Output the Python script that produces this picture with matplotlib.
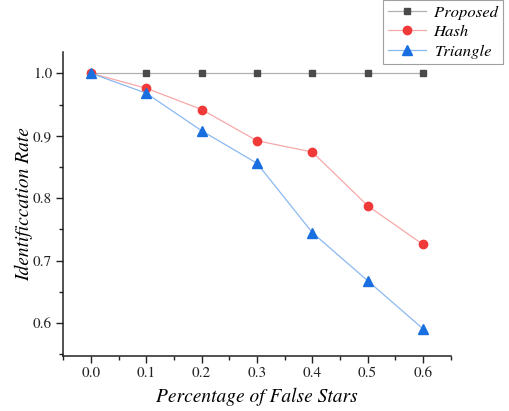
import matplotlib
matplotlib.use("Agg")
import matplotlib.pyplot as plt
from matplotlib.ticker import MultipleLocator, FormatStrFormatter

# Fraction of false stars injected into the star image
false_star_pct = [0.0, 0.1, 0.2, 0.3, 0.4, 0.5, 0.6]

# Identification rate of each method
proposed = [1.0, 1.0, 1.0, 1.0, 1.0, 1.0, 1.0]
hash_rate = [1.0, 0.976, 0.942, 0.892, 0.874, 0.788, 0.726]
triangle = [1.0, 0.968, 0.908, 0.856, 0.745, 0.668, 0.591]

series_names = ["Proposed", "Hash", "Triangle"]

plt.rcParams["font.family"] = ["TeX Gyre Termes", "Liberation Serif", "DejaVu Serif"]

fig = plt.figure(figsize=(5.10, 4.11), dpi=100)
ax = fig.add_axes([0.1241, 0.1345, 0.7596, 0.7397])

ax.plot(false_star_pct, proposed, color="#b0b0b0", lw=0.9, marker="s",
        ms=5, mfc="#4a4a4a", mec="#4a4a4a", label=series_names[0])
ax.plot(false_star_pct, hash_rate, color="#f7a8a8", lw=0.9, marker="o",
        ms=6, mfc="#f03a3a", mec="#f03a3a", label=series_names[1])
ax.plot(false_star_pct, triangle, color="#8ab8f0", lw=0.9, marker="^",
        ms=6.5, mfc="#1a6fe0", mec="#1a6fe0", label=series_names[2])

ax.set_xlim(-0.05, 0.65)
ax.set_ylim(0.548, 1.0345)
ax.xaxis.set_major_locator(MultipleLocator(0.1))
ax.xaxis.set_minor_locator(MultipleLocator(0.05))
ax.yaxis.set_major_locator(MultipleLocator(0.1))
ax.yaxis.set_minor_locator(MultipleLocator(0.05))
ax.xaxis.set_major_formatter(FormatStrFormatter("%.1f"))
ax.yaxis.set_major_formatter(FormatStrFormatter("%.1f"))

for side in ("top", "right"):
    ax.spines[side].set_visible(False)
for side in ("left", "bottom"):
    ax.spines[side].set_linewidth(1.1)
    ax.spines[side].set_color("#222222")

ax.tick_params(which="major", direction="out", length=5, width=1.0,
               labelsize=11, colors="#222222", pad=3)
ax.tick_params(which="minor", direction="out", length=3, width=1.0,
               colors="#222222")

ax.set_xlabel("Percentage of False Stars", fontsize=14, style="italic",
              labelpad=5)
ax.set_ylabel("Identificcation Rate", fontsize=14, style="italic",
              labelpad=0)

leg = ax.legend(loc="upper left", bbox_to_anchor=(382.7 / 510, 1.0),
                bbox_transform=fig.transFigure,
                prop={"style": "italic", "size": 12},
                frameon=True, fancybox=False, borderaxespad=0,
                handlelength=2.3, handletextpad=0.45, labelspacing=0.3,
                borderpad=0.3)
leg.get_frame().set_edgecolor("#888888")
leg.get_frame().set_linewidth(0.8)

fig.savefig("out.png", dpi=100)
